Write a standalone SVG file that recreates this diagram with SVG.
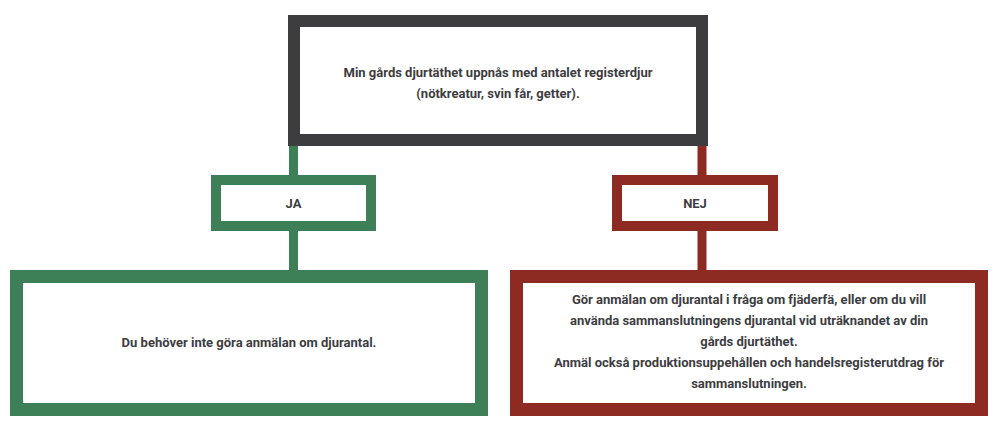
<svg xmlns="http://www.w3.org/2000/svg" width="996" height="438" viewBox="0 0 996 438">
<style>
.b{fill:#fff}
.t{font-family:Roboto,"Liberation Sans",sans-serif;font-weight:bold;font-size:13px;fill:#3d3d3f;text-anchor:middle}
.g{stroke:#3d7f56}.r{stroke:#8d2a22}.k{stroke:#3d3d3f}
</style>
<rect width="996" height="438" fill="#fff"/>
<g id="connectors" stroke-width="9">
<line class="g" x1="293.5" y1="146" x2="293.5" y2="175"/>
<line class="g" x1="293.5" y1="231" x2="293.5" y2="270"/>
<line class="r" x1="702" y1="146" x2="702" y2="175"/>
<line class="r" x1="702" y1="231" x2="702" y2="270"/>
</g>
<g id="top"><rect class="b k" x="294" y="21" width="408" height="119" stroke-width="12"/>
<text class="t" x="498" y="77">Min gårds djurtäthet uppnås med antalet registerdjur</text>
<text class="t" x="498" y="98">(nötkreatur, svin får, getter).</text></g>
<g id="ja"><rect class="b g" x="216" y="180" width="155" height="46" stroke-width="10"/>
<text class="t" x="293.5" y="208">JA</text></g>
<g id="nej"><rect class="b r" x="617" y="180" width="156" height="46" stroke-width="10"/>
<text class="t" x="695" y="208">NEJ</text></g>
<g id="yes-box"><rect class="b g" x="16.5" y="276.5" width="465" height="133" stroke-width="13"/>
<text class="t" x="249" y="347">Du behöver inte göra anmälan om djurantal.</text></g>
<g id="no-box"><rect class="b r" x="516.5" y="276.5" width="465" height="133" stroke-width="13"/>
<text class="t" x="749" y="304">Gör anmälan om djurantal i fråga om fjäderfä, eller om du vill</text>
<text class="t" x="749" y="325">använda sammanslutningens djurantal vid uträknandet av din</text>
<text class="t" x="749" y="346">gårds djurtäthet.</text>
<text class="t" x="749" y="367">Anmäl också produktionsuppehållen och handelsregisterutdrag för</text>
<text class="t" x="749" y="388">sammanslutningen.</text></g>
</svg>
